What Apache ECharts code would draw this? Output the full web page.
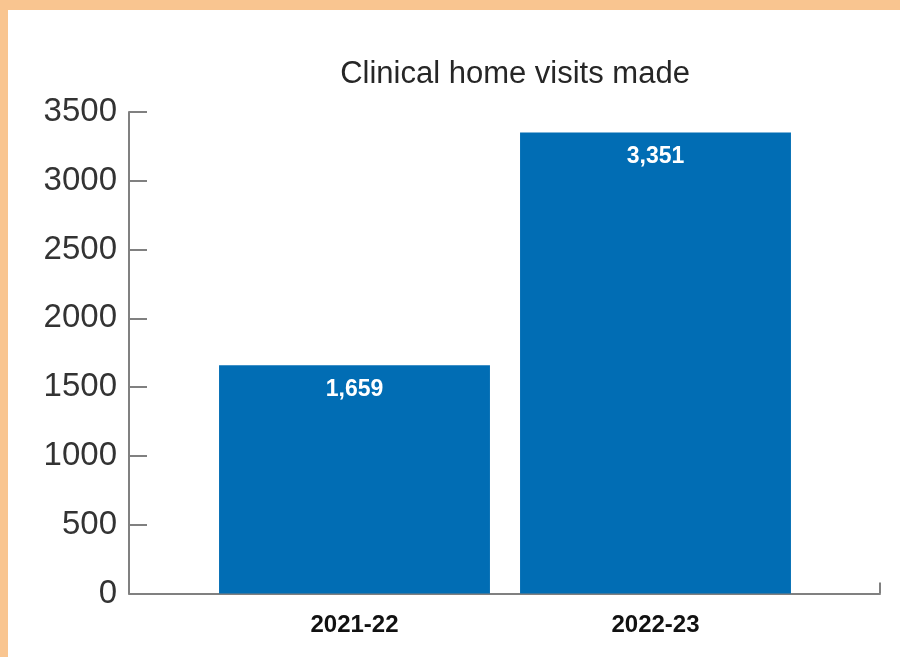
<!DOCTYPE html>
<html>
<head>
<meta charset="utf-8">
<script src="https://cdn.jsdelivr.net/npm/echarts@6/dist/echarts.min.js"></script>
<style>
  html, body { margin: 0; padding: 0; background: #ffffff; }
  #frame { position: absolute; left: 0; top: 0; width: 900px; height: 657px; box-sizing: border-box;
           border-top: 10px solid #f9c590; border-left: 8px solid #f9c590; background: #ffffff; }
  #chart { position: absolute; left: 0; top: 0; width: 900px; height: 657px; }
</style>
</head>
<body>
<div id="frame"></div>
<div id="chart"></div>
<script>
const chartTitle = 'Clinical home visits made';
const categories = ['2021-22', '2022-23'];
const visits = [1659, 3351];
const yMin = 0, yMax = 3500, yStep = 500;

const FONT = '"Liberation Sans", Arial, Helvetica, sans-serif';
const axisGrey = '#808080';
const barBlue = '#016db4';

const chart = echarts.init(document.getElementById('chart'), null, { renderer: 'canvas' });
chart.setOption({
  backgroundColor: 'transparent',
  animation: false,
  title: {
    text: chartTitle,
    left: 510,
    textAlign: 'center',
    top: 54,
    textStyle: { fontFamily: FONT, fontSize: 31, fontWeight: 'normal', color: '#262626' }
  },
  grid: [
    { left: 204, right: 94, top: 112, bottom: 63.5 },
    { left: 129, right: 20, top: 112, bottom: 63.5 }
  ],
  xAxis: [
    {
      type: 'category', gridIndex: 0, data: categories,
      axisLine: { show: false }, axisTick: { show: false },
      axisLabel: { margin: 20, fontFamily: FONT, fontSize: 24, fontWeight: 'bold', color: '#111111' }
    },
    {
      type: 'value', gridIndex: 1, min: 0, max: 1, interval: 1,
      axisLine: { show: true, lineStyle: { color: axisGrey, width: 2 } },
      axisTick: { show: true, inside: true, length: 11, lineStyle: { color: axisGrey, width: 2 } },
      axisLabel: { show: false }, splitLine: { show: false }
    }
  ],
  yAxis: [
    {
      type: 'value', gridIndex: 0, min: yMin, max: yMax, interval: yStep, show: false,
      splitLine: { show: false }
    },
    {
      type: 'value', gridIndex: 1, min: yMin, max: yMax, interval: yStep,
      axisLine: { show: true, lineStyle: { color: axisGrey, width: 2 } },
      axisTick: { show: true, inside: true, length: 18, lineStyle: { color: axisGrey, width: 2 } },
      axisLabel: { margin: 12, fontFamily: FONT, fontSize: 33, color: '#333333',
                   formatter: v => String(v) },
      splitLine: { show: false }
    }
  ],
  series: [
    {
      type: 'bar', xAxisIndex: 0, yAxisIndex: 0,
      data: visits, barWidth: '90%',
      itemStyle: { color: barBlue },
      label: {
        show: true, position: 'insideTop', distance: 13,
        fontFamily: FONT, fontSize: 23, fontWeight: 'bold', color: '#ffffff',
        formatter: p => Number(p.value).toLocaleString('en-US')
      }
    }
  ]
});
</script>
</body>
</html>
